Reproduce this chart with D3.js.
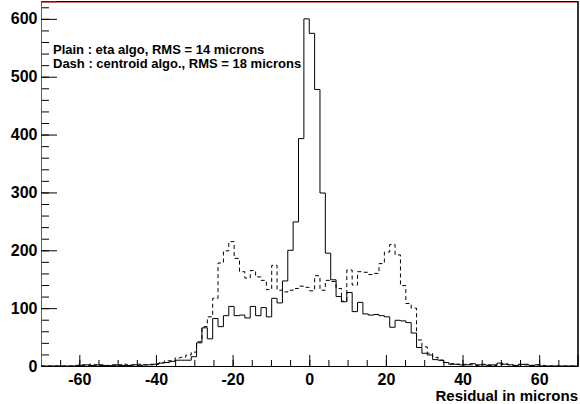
<!DOCTYPE html>
<html>
<head>
<meta charset="utf-8">
<script src="https://cdn.jsdelivr.net/npm/d3@7"></script>
<style>
  body { margin: 0; background: #fff; }
  svg { display: block; }
  text { font-family: "Liberation Sans", Arial, sans-serif; font-weight: bold; }
</style>
</head>
<body>
<svg id="svg1" width="580" height="404"></svg>
<script>
// histogram binning: 100 bins of 1.4 microns from -70 to 70
var binLow = -70;
var binWidth = 1.4;

// Plain line: eta algorithm
var etaCounts = [
    0, 0, 0, 0, 0, 0, 0, 1, 2, 1,
    2, 1, 0, 1, 2, 1, 1, 2, 1, 2,
    2, 3, 5, 6, 8, 10, 10, 10, 16, 40,
    66, 47, 82, 68, 87, 103, 87, 88, 83, 103,
    87, 101, 85, 117, 109, 147, 200, 249, 393, 600,
    575, 478, 299, 195, 149, 120, 111, 127, 94, 110,
    90, 88, 89, 87, 85, 67, 79, 78, 75, 57,
    32, 22, 19, 11, 10, 6, 3, 3, 2, 2,
    4, 2, 2, 1, 2, 5, 3, 2, 1, 3,
    2, 1, 2, 0, 0, 0, 0, 0, 0, 0
];

// Dashed line: centroid algorithm
var centroidCounts = [
    0, 0, 0, 0, 0, 0, 1, 2, 1, 3,
    1, 2, 1, 2, 1, 3, 2, 2, 3, 2,
    3, 4, 6, 9, 9, 14, 15, 19, 24, 42,
    68, 85, 117, 178, 199, 215, 186, 163, 152, 165,
    154, 148, 132, 174, 131, 128, 131, 134, 138, 136,
    130, 156, 131, 148, 146, 134, 112, 166, 140, 163,
    162, 158, 160, 177, 197, 210, 192, 139, 108, 100,
    45, 33, 22, 15, 10, 6, 4, 3, 2, 3,
    2, 1, 3, 2, 1, 2, 4, 2, 1, 2,
    3, 1, 2, 1, 0, 0, 0, 0, 0, 0
];

var xMajorTicks = [-60, -40, -20, 0, 20, 40, 60];
var yMajorTicks = [0, 100, 200, 300, 400, 500, 600];
var legendLines = [
    "Plain : eta algo, RMS = 14 microns",
    "Dash : centroid algo., RMS = 18 microns"
];
var xTitle = "Residual in microns";

// Method to get the x-scale
function getScaleX() {
    return d3.scaleLinear()
        .domain([-70, 70])
        .range([41, 577.5]);
}

// Method to get the y-scale
function getScaleY() {
    return d3.scaleLinear()
        .domain([0, 630])
        .range([366, 1.5]);
}

function axesWithD3(svgSelector) {
    var scaleX = getScaleX();
    var scaleY = getScaleY();
    var svg = d3.select(svgSelector);

    // frame: top line with a reddish edge under it, heavier right side
    svg.append("line")
        .attr("x1", 41).attr("x2", 578)
        .attr("y1", 1.5).attr("y2", 1.5)
        .attr("stroke", "#000");
    svg.append("line")
        .attr("x1", 42).attr("x2", 577)
        .attr("y1", 2.5).attr("y2", 2.5)
        .attr("stroke", "#d98080");
    svg.append("line")
        .attr("x1", 578).attr("x2", 578)
        .attr("y1", 1).attr("y2", 366.5)
        .attr("stroke", "#333")
        .attr("stroke-width", 2);

    // minor ticks x: every 5 microns
    var xMinor = d3.range(-65, 70, 5);
    svg.append("g")
        .attr("transform", "translate(0,366)")
        .call(d3.axisBottom(scaleX).tickValues(xMinor).tickSize(-6).tickFormat(""))
        .call(g => g.select(".domain").remove());

    // major ticks x with labels
    svg.append("g")
        .attr("transform", "translate(0,366)")
        .call(d3.axisBottom(scaleX)
            .tickValues(xMajorTicks)
            .tickSize(-11)
            .tickPadding(8)
            .tickFormat(d => String(d)))
        .call(g => g.select(".domain").attr("stroke", "#000"))
        .call(g => g.selectAll("text")
            .attr("font-size", "16px")
            .attr("fill", "#000"));

    // minor ticks y: every 20
    var yMinor = d3.range(20, 630, 20);
    svg.append("g")
        .attr("transform", "translate(41,0)")
        .call(d3.axisLeft(scaleY).tickValues(yMinor).tickSize(-8).tickFormat(""))
        .call(g => g.select(".domain").remove());

    // major ticks y with labels
    svg.append("g")
        .attr("transform", "translate(41,0)")
        .call(d3.axisLeft(scaleY)
            .tickValues(yMajorTicks)
            .tickSize(-16)
            .tickPadding(3.5)
            .tickFormat(d => String(d)))
        .call(g => g.select(".domain").attr("stroke", "#a04848"))
        .call(g => g.selectAll("text")
            .attr("font-size", "16px")
            .attr("fill", "#000"));

    // x axis title, right aligned
    svg.append("text")
        .attr("x", 578)
        .attr("y", 401)
        .attr("text-anchor", "end")
        .attr("font-size", "15px")
        .attr("fill", "#000")
        .text(xTitle);

    // legend text
    svg.selectAll("text.legend")
        .data(legendLines)
        .enter()
        .append("text")
        .attr("class", "legend")
        .attr("x", 53)
        .attr("y", (d, i) => 53.5 + i * 14)
        .attr("font-size", "13px")
        .attr("fill", "#000")
        .text(d => d);
}

// turn bin counts into a step outline
function stepPoints(counts) {
    var pts = [];
    counts.forEach(function(c, i) {
        var lo = binLow + i * binWidth;
        pts.push({x: lo, y: c});
        pts.push({x: lo + binWidth, y: c});
    });
    return pts;
}

function plotHist(svgSelector, counts, dash) {
    var scaleX = getScaleX();
    var scaleY = getScaleY();
    var svg = d3.select(svgSelector);

    var line = d3.line()
        .x(d => scaleX(d.x))
        .y(d => scaleY(d.y));

    svg.append("path")
        .datum(stepPoints(counts))
        .attr("fill", "none")
        .attr("stroke", "#000")
        .attr("stroke-width", 1)
        .attr("stroke-dasharray", dash)
        .attr("d", line);
}

function main() {
    axesWithD3('#svg1');
    plotHist('#svg1', centroidCounts, "4,3");
    plotHist('#svg1', etaCounts, null);
}

main();
</script>
</body>
</html>
